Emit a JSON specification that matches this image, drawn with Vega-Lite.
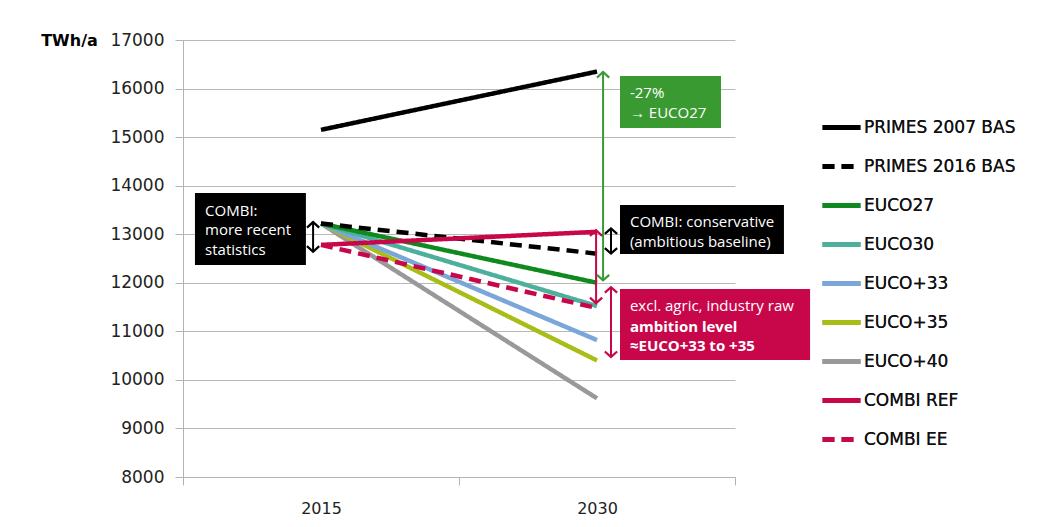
{
  "$schema": "https://vega.github.io/schema/vega-lite/v6.json",
  "width": 552,
  "height": 437,
  "autosize": "none",
  "padding": {"left": 183, "top": 40, "right": 324, "bottom": 50},
  "background": "white",
  "config": {
    "font": "Open Sans",
    "view": {"stroke": null}
  },
  "datasets": {
    "series": [
      {"series": "EUCO+40", "year": "2015", "value": 13220},
      {"series": "EUCO+40", "year": "2030", "value": 9620},
      {"series": "EUCO+35", "year": "2015", "value": 13220},
      {"series": "EUCO+35", "year": "2030", "value": 10400},
      {"series": "EUCO+33", "year": "2015", "value": 13220},
      {"series": "EUCO+33", "year": "2030", "value": 10820},
      {"series": "EUCO30", "year": "2015", "value": 13220},
      {"series": "EUCO30", "year": "2030", "value": 11520},
      {"series": "EUCO27", "year": "2015", "value": 13220},
      {"series": "EUCO27", "year": "2030", "value": 12000},
      {"series": "PRIMES 2016 BAS", "year": "2015", "value": 13220},
      {"series": "PRIMES 2016 BAS", "year": "2030", "value": 12600},
      {"series": "COMBI EE", "year": "2015", "value": 12780},
      {"series": "COMBI EE", "year": "2030", "value": 11480},
      {"series": "COMBI REF", "year": "2015", "value": 12780},
      {"series": "COMBI REF", "year": "2030", "value": 13050},
      {"series": "PRIMES 2007 BAS", "year": "2015", "value": 15150},
      {"series": "PRIMES 2007 BAS", "year": "2030", "value": 16350}
    ],
    "boxes": [
      {"kind": "black", "x1": 2008.15, "x2": 2014.18, "y1": 12366, "y2": 13848},
      {"kind": "green", "x1": 2031.25, "x2": 2036.74, "y1": 15187, "y2": 16258},
      {"kind": "black", "x1": 2031.25, "x2": 2040.16, "y1": 12592, "y2": 13601},
      {"kind": "crimson", "x1": 2031.25, "x2": 2041.58, "y1": 10409, "y2": 11871}
    ],
    "labels": [
      {"x": 2008.7, "y": 13478, "text": "COMBI:", "bold": false},
      {"x": 2008.7, "y": 13087, "text": "more recent", "bold": false},
      {"x": 2008.7, "y": 12675, "text": "statistics", "bold": false},
      {"x": 2031.79, "y": 15908, "text": "-27%", "bold": false},
      {"x": 2031.79, "y": 15496, "text": "→ EUCO27", "bold": false},
      {"x": 2031.79, "y": 13251, "text": "COMBI: conservative", "bold": false},
      {"x": 2031.79, "y": 12839, "text": "(ambitious baseline)", "bold": false},
      {"x": 2031.79, "y": 11521, "text": "excl. agric, industry  raw", "bold": false},
      {"x": 2031.79, "y": 11089, "text": "ambition level", "bold": true},
      {"x": 2031.79, "y": 10698, "text": "≈EUCO+33 to +35", "bold": true}
    ],
    "arrows": [
      {"kind": "green", "x": 2030.33, "lo": 12050, "hi": 16340},
      {"kind": "crimson", "x": 2029.95, "lo": 11580, "hi": 13080},
      {"kind": "black", "x": 2030.76, "lo": 12600, "hi": 13120},
      {"kind": "crimson", "x": 2030.76, "lo": 10470, "hi": 11910},
      {"kind": "black", "x": 2014.57, "lo": 12640, "hi": 13250}
    ]
  },
  "layer": [
    {
      "data": {"name": "series"},
      "mark": {"type": "line", "strokeWidth": 4.5, "strokeCap": "butt"},
      "encoding": {
        "x": {
          "field": "year",
          "type": "ordinal",
          "scale": {"type": "band", "paddingInner": 0, "paddingOuter": 0},
          "axis": {
            "title": null,
            "tickBand": "extent",
            "labelAngle": 0,
            "tickSize": 8,
            "labelPadding": 15,
            "labelFont": "DejaVu Sans",
            "labelFontSize": 16,
            "labelColor": "#222222",
            "grid": false,
            "domainColor": "#b3b3b3",
            "tickColor": "#b3b3b3"
          }
        },
        "y": {
          "field": "value",
          "type": "quantitative",
          "scale": {"domain": [8000, 17000], "nice": false, "zero": false},
          "axis": {
            "title": "TWh/a",
            "titleAngle": 0,
            "titleFont": "DejaVu Sans",
            "titleFontWeight": "bold",
            "titleFontSize": 16,
            "titleColor": "#000000",
            "titleX": -114,
            "titleY": 0,
            "titleAlign": "center",
            "titleBaseline": "middle",
            "values": [8000, 9000, 10000, 11000, 12000, 13000, 14000, 15000, 16000, 17000],
            "format": "d",
            "grid": true,
            "gridColor": "#b8b8b8",
            "domainColor": "#b3b3b3",
            "tickColor": "#b3b3b3",
            "tickSize": 8,
            "labelPadding": 11,
            "labelFont": "DejaVu Sans",
            "labelFontSize": 17,
            "labelColor": "#222222"
          }
        },
        "color": {
          "field": "series",
          "type": "nominal",
          "scale": {
            "domain": ["PRIMES 2007 BAS", "PRIMES 2016 BAS", "EUCO27", "EUCO30", "EUCO+33", "EUCO+35", "EUCO+40", "COMBI REF", "COMBI EE"],
            "range": ["#000000", "#000000", "#0f8a1e", "#4db09c", "#7aa6da", "#a9bd17", "#999999", "#c8074b", "#c8074b"]
          },
          "legend": {
            "title": null,
            "orient": "none",
            "legendX": 637,
            "legendY": 66,
            "symbolType": "stroke",
            "symbolSize": 1444,
            "symbolStrokeWidth": 5,
            "rowPadding": 7,
            "labelFont": "DejaVu Sans",
            "labelFontSize": 17,
            "labelColor": "#111111",
            "labelOffset": 1,
            "encode": {
              "symbols": {"update": {"strokeDash": {"scale": "strokeDash", "field": "value"}}}
            }
          }
        },
        "strokeDash": {
          "field": "series",
          "type": "nominal",
          "scale": {
            "domain": ["PRIMES 2007 BAS", "PRIMES 2016 BAS", "EUCO27", "EUCO30", "EUCO+33", "EUCO+35", "EUCO+40", "COMBI REF", "COMBI EE"],
            "range": [[1, 0], [12, 7], [1, 0], [1, 0], [1, 0], [1, 0], [1, 0], [1, 0], [12, 7]]
          },
          "legend": {
            "title": null,
            "orient": "none",
            "legendX": 637,
            "legendY": 66,
            "symbolType": "stroke",
            "symbolSize": 1444,
            "symbolStrokeWidth": 5,
            "rowPadding": 7,
            "labelFont": "DejaVu Sans",
            "labelFontSize": 17,
            "labelColor": "#111111",
            "labelOffset": 1,
            "encode": {
              "symbols": {"update": {"strokeDash": {"scale": "strokeDash", "field": "value"}}}
            }
          }
        }
      }
    },
    {
      "layer": [
        {
          "data": {"name": "boxes"},
          "mark": {"type": "rect"},
          "encoding": {
            "x": {"field": "x1", "type": "quantitative", "scale": {"domain": [2007.5, 2037.5], "nice": false, "zero": false}, "axis": null},
            "x2": {"field": "x2"},
            "y": {"field": "y1", "type": "quantitative"},
            "y2": {"field": "y2"},
            "color": {
              "field": "kind",
              "type": "nominal",
              "scale": {"domain": ["black", "green", "crimson"], "range": ["#000000", "#3a9a32", "#c8074b"]},
              "legend": null
            }
          }
        },
        {
          "data": {"name": "arrows"},
          "mark": {"type": "rule", "strokeWidth": 2},
          "encoding": {
            "x": {"field": "x", "type": "quantitative"},
            "y": {"field": "lo", "type": "quantitative"},
            "y2": {"field": "hi"},
            "color": {"field": "kind", "type": "nominal", "legend": null}
          }
        },
        {
          "data": {"name": "arrows"},
          "mark": {"type": "point", "shape": "M-1,0.9L0,0L1,0.9", "filled": false, "size": 150, "strokeWidth": 2.2, "opacity": 1},
          "encoding": {
            "x": {"field": "x", "type": "quantitative"},
            "y": {"field": "hi", "type": "quantitative"},
            "color": {"field": "kind", "type": "nominal", "legend": null}
          }
        },
        {
          "data": {"name": "arrows"},
          "mark": {"type": "point", "shape": "M-1,-0.9L0,0L1,-0.9", "filled": false, "size": 150, "strokeWidth": 2.2, "opacity": 1},
          "encoding": {
            "x": {"field": "x", "type": "quantitative"},
            "y": {"field": "lo", "type": "quantitative"},
            "color": {"field": "kind", "type": "nominal", "legend": null}
          }
        },
        {
          "data": {"name": "labels"},
          "transform": [{"filter": "!datum.bold"}],
          "mark": {"type": "text", "align": "left", "baseline": "middle", "color": "white", "fontSize": 15},
          "encoding": {
            "x": {"field": "x", "type": "quantitative"},
            "y": {"field": "y", "type": "quantitative"},
            "text": {"field": "text"}
          }
        },
        {
          "data": {"name": "labels"},
          "transform": [{"filter": "datum.bold"}],
          "mark": {"type": "text", "align": "left", "baseline": "middle", "color": "white", "fontSize": 15, "fontWeight": "bold"},
          "encoding": {
            "x": {"field": "x", "type": "quantitative"},
            "y": {"field": "y", "type": "quantitative"},
            "text": {"field": "text"}
          }
        }
      ]
    }
  ],
  "resolve": {"scale": {"x": "independent", "color": "independent"}}
}
